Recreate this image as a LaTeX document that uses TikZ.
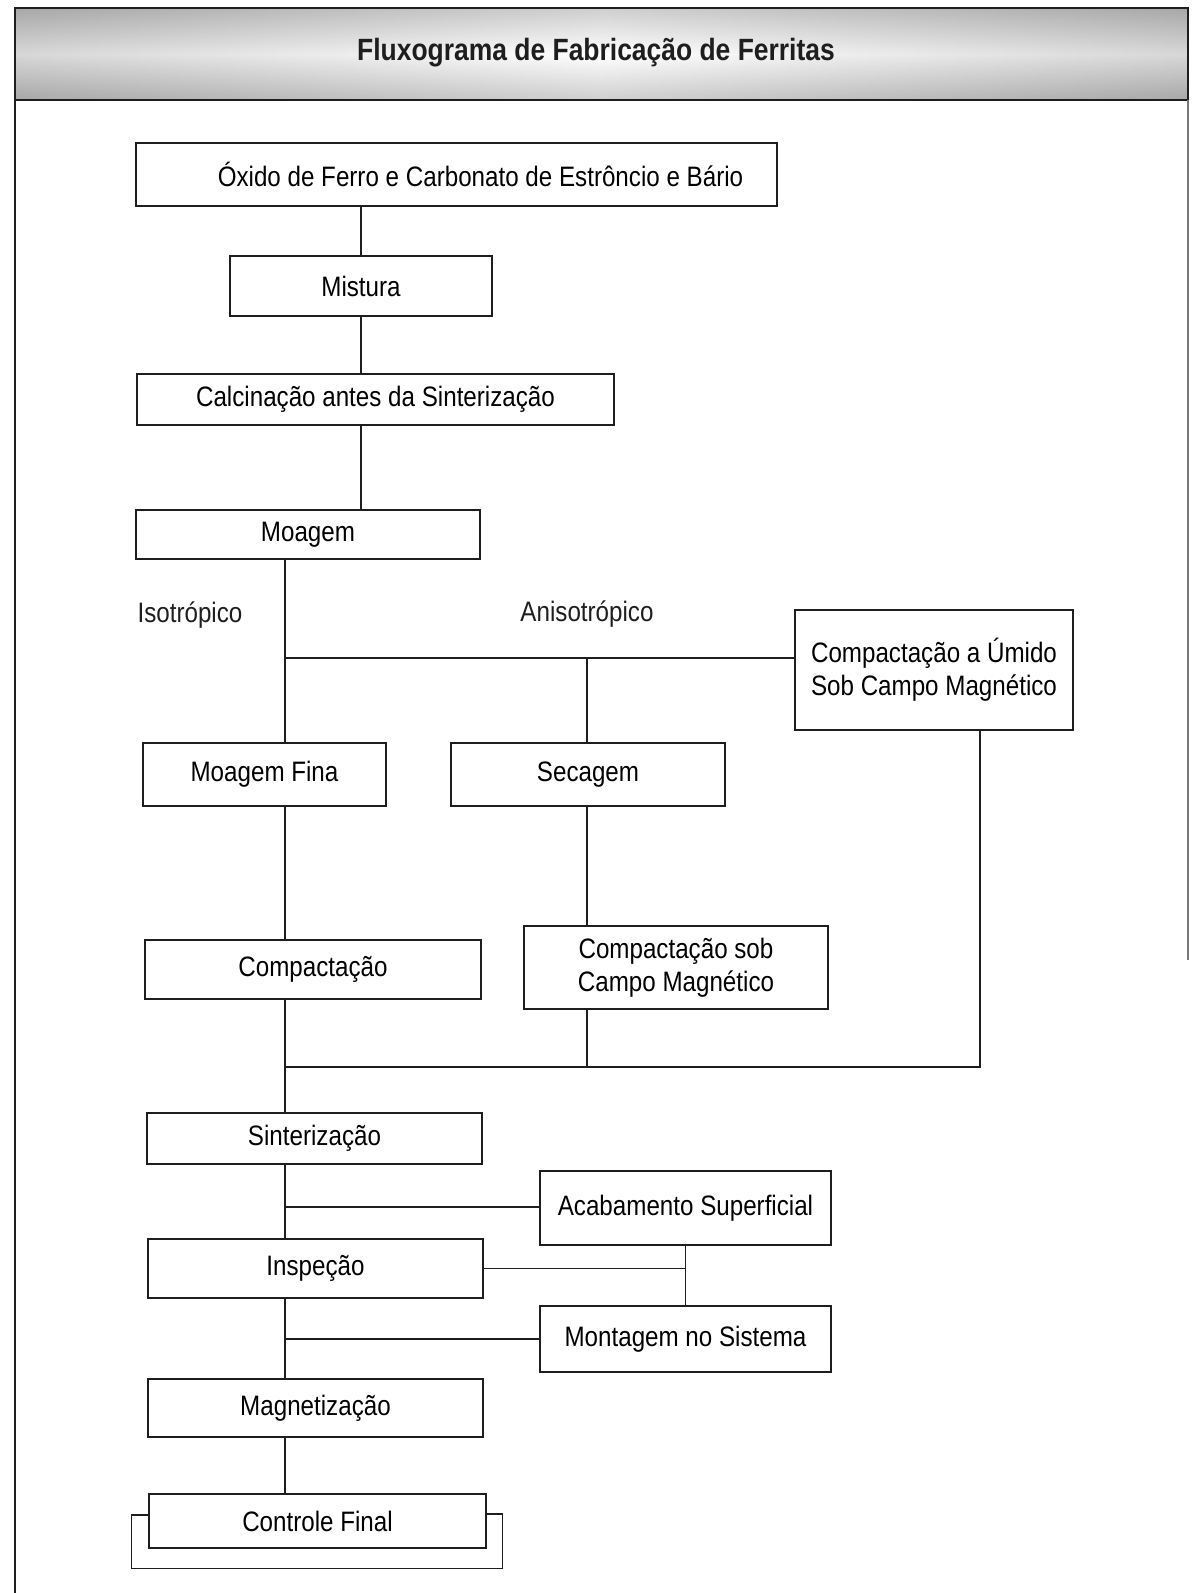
\documentclass[tikz,border=0pt]{standalone}
\usepackage{fontspec}
\setmainfont{Liberation Sans}[FakeStretch=0.86]
\usepackage{xcolor}
\usepackage{tikz}
\usetikzlibrary{positioning}
\definecolor{fxink}{HTML}{1E1E1E}
\definecolor{fxband}{HTML}{A8A8A8}
\newlength\pxu
\setlength\pxu{0.02cm}

\begin{document}
\begin{tikzpicture}[
  x=0.02cm, y=-0.02cm,
  box/.style={rectangle, draw=fxink, line width=0.8pt, fill=white,
              align=center, inner sep=2pt, font=\fontsize{16}{19}\selectfont},
  lbl/.style={font=\fontsize{16}{19}\selectfont, text=fxink},
  link/.style={draw=fxink, line width=0.8pt},
]
  \useasboundingbox (0,0) rectangle (1192,1593);

  % faixa do titulo
  \shade[top color=fxband, bottom color=fxband, middle color=white] (15,8) rectangle (1188,100);
  \shade[left color=fxband, right color=fxband, middle color=white, opacity=0.45] (15,8) rectangle (1188,100);
  \draw[fxink, line width=0.8pt] (15,8) rectangle (1188,100);
  \draw[fxink, line width=0.8pt] (15,100) -- (15,1593);
  \draw[fxink!60, line width=0.8pt] (1188,100) -- (1188,960);
  \node[font=\fontsize{17.5}{21}\selectfont\bfseries, text=fxink] (title) at (596,53)
    {Fluxograma de Fabricação de Ferritas};

  % etapas
  \node[box, minimum width=641\pxu, minimum height=63\pxu] (oxido) at (456.5,174.5)
    {\hspace*{48\pxu}Óxido de Ferro e Carbonato de Estrôncio e Bário};
  \node[box, minimum width=262\pxu, minimum height=60\pxu] (mistura) at (361,286) {Mistura};
  \node[box, minimum width=477\pxu, minimum height=51\pxu] (calc) at (375.5,399.5)
    {Calcinação antes da Sinterização};
  \node[box, minimum width=344\pxu, minimum height=49\pxu] (moagem) at (308,534.5) {Moagem};
  \node[box, minimum width=278\pxu, minimum height=120\pxu] (umido) at (934,670)
    {Compactação a Úmido\\ Sob Campo Magnético};
  \node[box, minimum width=243\pxu, minimum height=63\pxu] (fina) at (264.5,774.5) {Moagem Fina};
  \node[box, minimum width=274\pxu, minimum height=63\pxu] (secagem) at (588,774.5) {Secagem};
  \node[box, minimum width=336\pxu, minimum height=59\pxu] (compact) at (313,969.5) {Compactação};
  \node[box, minimum width=304\pxu, minimum height=83\pxu] (compsob) at (676,967.5)
    {Compactação sob\\ Campo Magnético};
  \node[box, minimum width=335\pxu, minimum height=51\pxu] (sinter) at (314.5,1138.5) {Sinterização};
  \node[box, minimum width=291\pxu, minimum height=74\pxu] (acab) at (685.5,1208) {Acabamento Superficial};
  \node[box, minimum width=335\pxu, minimum height=59\pxu] (insp) at (315.5,1268.5) {Inspeção};
  \node[box, minimum width=291\pxu, minimum height=66\pxu] (mont) at (685.5,1339) {Montagem no Sistema};
  \node[box, minimum width=335\pxu, minimum height=58\pxu] (magn) at (315.5,1408) {Magnetização};
  \node[box, minimum width=337\pxu, minimum height=54\pxu] (final) at (317.5,1521) {Controle Final};

  \node[lbl] (iso) at (190,615) {Isotrópico};
  \node[lbl] (aniso) at (587,614) {Anisotrópico};

  % pontos de ramificacao
  \coordinate (j1) at (285,658);
  \coordinate (ja) at (587,658);
  \coordinate (j2) at (285,1067);
  \coordinate (ju) at (980,1067);
  \coordinate (j3) at (285,1207);
  \coordinate (j4) at (285,1339);

  % ligacoes
  \draw[link] (mistura.north |- oxido.south) -- (mistura.north);
  \draw[link] (mistura.south) -- (mistura.south |- calc.north);
  \draw[link] (mistura.south |- calc.south) -- (mistura.south |- moagem.north);
  \draw[link] (j1 |- moagem.south) -- (j1) -- (j1 |- fina.north);
  \draw[link] (j1) -- (j1 -| umido.west);
  \draw[link] (ja) -- (ja |- secagem.north);
  \draw[link] (ja |- secagem.south) -- (ja |- compsob.north);
  \draw[link] (ja |- compsob.south) -- (ja |- j2);
  \draw[link] (ju |- umido.south) -- (ju) -- (j2);
  \draw[link] (j1 |- fina.south) -- (j1 |- compact.north);
  \draw[link] (j1 |- compact.south) -- (j1 |- sinter.north);
  \draw[link] (j1 |- sinter.south) -- (j1 |- insp.north);
  \draw[link] (j3) -- (j3 -| acab.west);
  \draw[link] (acab.south) -- (mont.north);
  \draw[link] (insp.east) -- (insp.east -| acab.south);
  \draw[link] (j1 |- insp.south) -- (j1 |- magn.north);
  \draw[link] (j4) -- (mont.west);
  \draw[link] (j1 |- magn.south) -- (j1 |- final.north);
  \draw[link] ([yshift=6\pxu]final.west) -- ++(-17,0)
    |- ([xshift=16\pxu, yshift=-20\pxu]final.south east) |- ([yshift=7\pxu]final.east);
\end{tikzpicture}
\end{document}
